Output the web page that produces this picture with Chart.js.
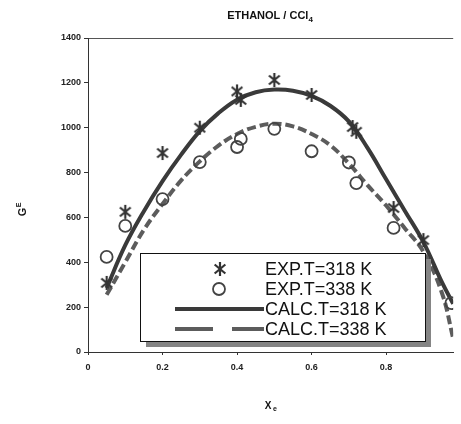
<!DOCTYPE html>
<html>
<head>
<meta charset="utf-8">
<script src="https://cdn.jsdelivr.net/npm/chart.js@4"></script>
<style>
  html, body { margin: 0; padding: 0; background: #fff; }
  #geChart { display: block; }
</style>
</head>
<body>
<canvas id="geChart" width="461" height="424"></canvas>
<script>
// Excess Gibbs energy of ethanol / CCl4 at two temperatures
const xTicks = [0, 0.2, 0.4, 0.6, 0.8];
const yTicks = [0, 200, 400, 600, 800, 1000, 1200, 1400];

// experimental points
const exp318X = [0.05, 0.10, 0.20, 0.30, 0.40, 0.41, 0.50, 0.60, 0.71, 0.72, 0.82, 0.90];
const exp318G = [308, 625, 887, 1000, 1162, 1124, 1213, 1146, 1003, 982, 642, 499];
const exp338X = [0.05, 0.10, 0.20, 0.30, 0.40, 0.41, 0.50, 0.60, 0.70, 0.72, 0.82, 0.975];
const exp338G = [424, 562, 682, 847, 914, 950, 995, 895, 845, 753, 553, 218];

// calculated curves
const calcX = [0.05, 0.1, 0.15, 0.2, 0.25, 0.3, 0.35, 0.4, 0.45, 0.5, 0.55, 0.6, 0.65, 0.7, 0.75, 0.8, 0.85, 0.9, 0.95, 0.98];
const calc318G = [285, 476, 628, 762, 880, 985, 1065, 1125, 1158, 1170, 1165, 1142, 1098, 1028, 910, 770, 630, 490, 310, 215];
const calc338G = [255, 400, 545, 660, 765, 850, 920, 972, 1004, 1018, 1006, 972, 922, 840, 744, 653, 552, 447, 262, 60];

const toXY = (xs, ys) => xs.map((x, i) => ({ x: x, y: ys[i] }));

// asterisk marker: an X crossed by a vertical bar
function makeStar(size, color) {
  const c = document.createElement('canvas');
  c.width = c.height = size;
  const g = c.getContext('2d');
  g.strokeStyle = color;
  g.lineWidth = 2.2;
  const m = size / 2, r = size / 2 - 1;
  g.beginPath();
  g.moveTo(m, m - r); g.lineTo(m, m + r);
  const a = 40 * Math.PI / 180;
  g.moveTo(m - r * Math.cos(a), m - r * Math.sin(a)); g.lineTo(m + r * Math.cos(a), m + r * Math.sin(a));
  g.moveTo(m - r * Math.cos(a), m + r * Math.sin(a)); g.lineTo(m + r * Math.cos(a), m - r * Math.sin(a));
  g.stroke();
  return c;
}
const starImg = makeStar(16, '#333');

const solidColor = '#3a3a3a';
const dashColor = '#5c5c5c';

// title, axis titles and the boxed legend
const decorPlugin = {
  id: 'decor',
  afterDraw(chart) {
    const c = chart.ctx;
    c.save();
    c.fillStyle = '#111';
    // title with subscript
    c.font = 'bold 11px "Liberation Sans", Arial, sans-serif';
    c.textBaseline = 'alphabetic';
    const t = 'ETHANOL / CCl';
    const tw = c.measureText(t).width;
    c.font = 'bold 8px "Liberation Sans", Arial, sans-serif';
    const sw = c.measureText('4').width;
    const tx = 270 - (tw + sw) / 2;
    c.font = 'bold 11px "Liberation Sans", Arial, sans-serif';
    c.textAlign = 'left';
    c.fillText(t, tx, 19);
    c.font = 'bold 8px "Liberation Sans", Arial, sans-serif';
    c.fillText('4', tx + tw, 22);

    // x title
    c.font = 'bold 10px "Liberation Sans", Arial, sans-serif';
    c.textAlign = 'center';
    c.fillText('X', 268, 409);
    c.font = 'bold 7px "Liberation Sans", Arial, sans-serif';
    c.fillText('e', 275, 411);

    // y title, rotated, with superscript
    c.translate(26, 212);
    c.rotate(-Math.PI / 2);
    c.font = 'bold 11px "Liberation Sans", Arial, sans-serif';
    c.textAlign = 'center';
    c.fillText('G', 0, 0);
    c.font = 'bold 7px "Liberation Sans", Arial, sans-serif';
    c.fillText('E', 7, -5);
    c.setTransform(1, 0, 0, 1, 0, 0);

    // legend box with drop shadow
    const bx = 140, by = 253, bw = 285, bh = 88;
    c.fillStyle = '#858585';
    c.fillRect(bx + 6, by + 6, bw, bh);
    c.fillStyle = '#fff';
    c.fillRect(bx, by, bw, bh);
    c.strokeStyle = '#111';
    c.lineWidth = 1;
    c.strokeRect(bx + 0.5, by + 0.5, bw, bh);

    const ds = chart.data.datasets;
    const rows = [269, 289, 309, 329];
    c.font = '18px "Liberation Sans", Arial, sans-serif';
    c.textAlign = 'left';
    c.textBaseline = 'middle';
    ds.forEach((d, i) => {
      const y = rows[i];
      if (i === 0) {
        c.drawImage(starImg, 220 - starImg.width / 2, y - starImg.height / 2);
      } else if (i === 1) {
        c.beginPath();
        c.arc(219, y, 6, 0, Math.PI * 2);
        c.strokeStyle = d.borderColor;
        c.lineWidth = 1.8;
        c.stroke();
      } else {
        c.beginPath();
        c.strokeStyle = d.borderColor;
        c.lineWidth = 4;
        c.setLineDash(i === 3 ? [38, 19] : []);
        c.moveTo(175, y); c.lineTo(264, y);
        c.stroke();
        c.setLineDash([]);
      }
      c.fillStyle = '#111';
      c.fillText(d.label, 265, y + 1);
    });
    c.restore();
  }
};

new Chart(document.getElementById('geChart'), {
  type: 'scatter',
  data: {
    datasets: [
      {
        label: 'EXP.T=318 K',
        data: toXY(exp318X, exp318G),
        pointStyle: starImg,
        borderColor: '#333',
        showLine: false,
        order: 0
      },
      {
        label: 'EXP.T=338 K',
        data: toXY(exp338X, exp338G),
        pointStyle: 'circle',
        pointRadius: 6,
        borderColor: '#444',
        backgroundColor: 'rgba(0,0,0,0)',
        pointBorderWidth: 1.8,
        showLine: false,
        order: 1
      },
      {
        label: 'CALC.T=318 K',
        data: toXY(calcX, calc318G),
        showLine: true,
        borderColor: solidColor,
        borderWidth: 4,
        pointRadius: 0,
        tension: 0.4,
        order: 2
      },
      {
        label: 'CALC.T=338 K',
        data: toXY(calcX, calc338G),
        showLine: true,
        borderColor: dashColor,
        borderWidth: 4,
        borderDash: [9, 4],
        pointRadius: 0,
        tension: 0.4,
        order: 3
      }
    ]
  },
  options: {
    responsive: false,
    animation: false,
    layout: { padding: { top: 38, left: 0, right: 0, bottom: 0 } },
    plugins: {
      legend: { display: false },
      tooltip: { enabled: false }
    },
    scales: {
      x: {
        type: 'linear',
        min: 0,
        max: 0.98,
        afterBuildTicks: s => { s.ticks = xTicks.map(v => ({ value: v })); },
        afterFit: s => { s.height = 72; },
        ticks: {
          color: '#222',
          padding: 7,
          font: { family: '"Liberation Sans", Arial, sans-serif', size: 9, weight: 'bold' },
          callback: v => v === 0 ? '0' : v.toFixed(1)
        },
        grid: { drawOnChartArea: false, tickLength: 3, tickColor: '#333' },
        border: { display: true, color: '#333', width: 1 }
      },
      y: {
        min: 0,
        max: 1400,
        afterBuildTicks: s => { s.ticks = yTicks.map(v => ({ value: v })); },
        afterFit: s => { s.width = 88; },
        ticks: {
          color: '#222',
          padding: 3,
          font: { family: '"Liberation Sans", Arial, sans-serif', size: 9, weight: 'bold' },
          callback: v => String(v)
        },
        grid: {
          color: ctx => (ctx.tick && ctx.tick.value === 1400) ? '#555' : 'rgba(0,0,0,0)',
          tickLength: 4,
          tickColor: '#333'
        },
        border: { display: true, color: '#333', width: 1 }
      }
    }
  },
  plugins: [decorPlugin]
});
</script>
</body>
</html>
